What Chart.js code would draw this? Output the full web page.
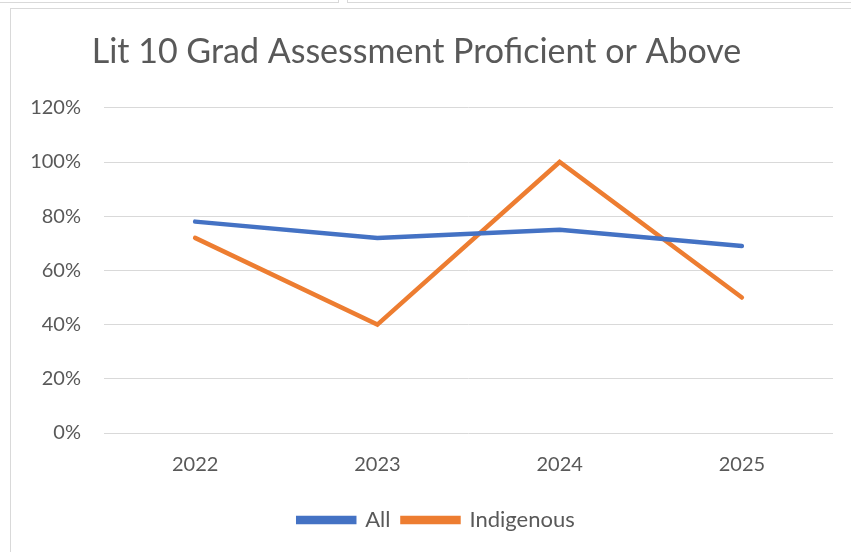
<!DOCTYPE html>
<html>
<head>
<meta charset="utf-8">
<script src="https://cdn.jsdelivr.net/npm/chart.js@4"></script>
<style>
    html, body { margin: 0; padding: 0; background: #fff; }
    #wrap { position: relative; width: 851px; height: 552px; overflow: hidden; }
    #frame { position: absolute; left: 10px; top: 8px; width: 900px; height: 600px; border: 1px solid #d9d9d9; }
    #tabA { position: absolute; left: -2px; top: -2px; width: 339px; height: 4px; border: 1px solid #d9d9d9; border-top: none; }
    #tabB { position: absolute; left: 347px; top: -2px; width: 600px; height: 4px; border: 1px solid #d9d9d9; border-top: none; }
    canvas { position: absolute; left: 0; top: 0; }
</style>
</head>
<body>
<div id="wrap">
    <div id="tabA"></div>
    <div id="tabB"></div>
    <div id="frame"></div>
    <canvas id="chart" width="851" height="552"></canvas>
</div>
<script>
// Chart data
const years = ['2022', '2023', '2024', '2025'];
const allStudents = [78, 72, 75, 69];
const indigenous = [72, 40, 100, 50];
const yTicks = [0, 20, 40, 60, 80, 100, 120];

const textColor = '#595959';
const fontFamily = 'Lato, "Open Sans", sans-serif';

// nudge the legend to sit under the plot like the original
const legendShift = {
    id: 'legendShift',
    afterLayout(chart) {
        if (chart.legend) {
            chart.legend.left += 20;
            chart.legend.right += 20;
        }
    }
};

const ctx = document.getElementById('chart').getContext('2d');
new Chart(ctx, {
    type: 'line',
    data: {
        labels: years,
        datasets: [
            {
                label: 'All',
                data: allStudents,
                borderColor: '#4472C4',
                backgroundColor: '#4472C4',
                borderWidth: 4.5,
                pointRadius: 0,
                borderCapStyle: 'round',
                tension: 0
            },
            {
                label: 'Indigenous',
                data: indigenous,
                borderColor: '#ED7D31',
                backgroundColor: '#ED7D31',
                borderWidth: 4.5,
                pointRadius: 0,
                borderCapStyle: 'round',
                tension: 0
            }
        ]
    },
    options: {
        responsive: false,
        animation: false,
        layout: { padding: { left: 0, right: 18, top: 32, bottom: 11 } },
        plugins: {
            title: {
                display: true,
                text: 'Lit 10 Grad Assessment Proficient or Above',
                color: textColor,
                font: { family: fontFamily, size: 34, weight: 'normal' },
                padding: { top: 0, bottom: 35 }
            },
            legend: {
                position: 'bottom',
                labels: {
                    color: textColor,
                    font: { family: fontFamily, size: 22 },
                    boxWidth: 56,
                    boxHeight: 4,
                    padding: 12
                }
            },
            tooltip: { enabled: false }
        },
        scales: {
            x: {
                offset: true,
                grid: { display: false, drawTicks: false },
                border: { display: false },
                ticks: {
                    color: textColor,
                    font: { family: fontFamily, size: 20 },
                    padding: 20
                }
            },
            y: {
                min: 0,
                max: 120,
                afterBuildTicks: (scale) => { scale.ticks = yTicks.map(v => ({ value: v })); },
                afterFit: (scale) => { scale.width = 104; },
                grid: { color: '#d9d9d9', lineWidth: 1, drawTicks: false },
                border: { display: false },
                ticks: {
                    color: textColor,
                    font: { family: fontFamily, size: 20 },
                    padding: 23,
                    callback: (v) => v + '%'
                }
            }
        }
    },
    plugins: [legendShift]
});
</script>
</body>
</html>
